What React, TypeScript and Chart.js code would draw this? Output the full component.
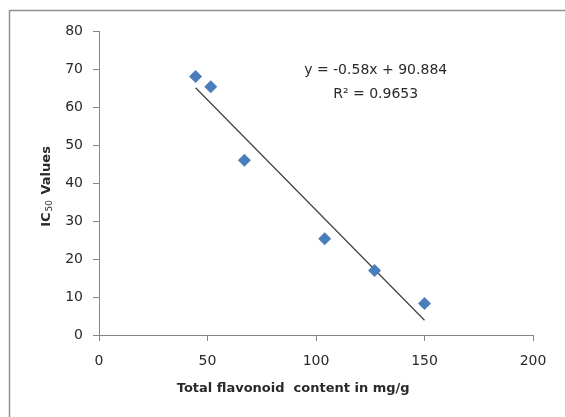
import React, { useEffect, useRef } from "react";
import { Chart, registerables } from "chart.js";

Chart.register(...registerables);

// ---- data ----
const flavonoidContent = [44.5, 51.5, 67, 104, 127, 150];
const ic50Values = [68, 65.3, 46, 25.3, 17, 8.3];
const trendSlope = -0.58;
const trendIntercept = 90.884;
const xTickValues = [0, 50, 100, 150, 200];
const yTickValues = [0, 10, 20, 30, 40, 50, 60, 70, 80];
const equationLines = ["y = -0.58x + 90.884", "R\u00B2 = 0.9653"];
const xAxisTitle = "Total flavonoid  content in mg/g";
const yAxisTitleMain = "IC";
const yAxisTitleSub = "50";
const yAxisTitleRest = " Values";

const FONT = '"DejaVu Sans", "Open Sans", sans-serif';
const AXIS_COLOR = "#868686";
const TEXT_COLOR = "#2a2a2a";
const POINT_COLOR = "#4A7EBB";

const decorPlugin = {
  id: "decor",
  beforeDraw(chart: any) {
    const ctx = chart.ctx;
    ctx.save();
    ctx.fillStyle = "#ffffff";
    ctx.fillRect(0, 0, chart.width, chart.height);
    ctx.strokeStyle = "#8f8f8f";
    ctx.lineWidth = 1.5;
    ctx.strokeRect(9.5, 10.5, chart.width + 20, chart.height + 20);
    ctx.restore();
  },
  afterDraw(chart: any) {
    const ctx = chart.ctx;
    const xs = chart.scales.x;
    const ys = chart.scales.y;
    ctx.save();
    ctx.fillStyle = TEXT_COLOR;
    ctx.textBaseline = "middle";

    // trendline equation
    ctx.font = `14px ${FONT}`;
    ctx.textAlign = "center";
    const ex = xs.getPixelForValue(127.5);
    ctx.fillText(equationLines[0], ex, ys.getPixelForValue(69.6));
    ctx.fillText(equationLines[1], ex, ys.getPixelForValue(63.3));

    // x axis title
    ctx.font = `bold 13px ${FONT}`;
    ctx.fillText(xAxisTitle, xs.getPixelForValue(89.5), 389);

    // y axis title with subscript
    const cy = (chart.chartArea.top + chart.chartArea.bottom) / 2 + 4;
    ctx.translate(47, cy);
    ctx.rotate(-Math.PI / 2);
    ctx.textAlign = "left";
    const mainFont = `bold 13px ${FONT}`;
    const subFont = `9px ${FONT}`;
    ctx.font = mainFont;
    const w1 = ctx.measureText(yAxisTitleMain).width;
    const w3 = ctx.measureText(yAxisTitleRest).width;
    ctx.font = subFont;
    const w2 = ctx.measureText(yAxisTitleSub).width + 1;
    let px = -(w1 + w2 + w3) / 2;
    ctx.font = mainFont;
    ctx.fillText(yAxisTitleMain, px, 0);
    px += w1 + 1;
    ctx.font = subFont;
    ctx.fillText(yAxisTitleSub, px, 3);
    px += w2;
    ctx.font = mainFont;
    ctx.fillText(yAxisTitleRest, px, 0);
    ctx.restore();
  },
};

export default function App() {
  const canvasRef = useRef<HTMLCanvasElement | null>(null);

  useEffect(() => {
    document.body.style.margin = "0";
    const canvas = canvasRef.current;
    if (!canvas) return;

    const xMin = Math.min(...flavonoidContent);
    const xMax = Math.max(...flavonoidContent);
    const trendPoints = [xMin, xMax].map((x) => ({ x, y: trendSlope * x + trendIntercept }));
    const scatterPoints = flavonoidContent.map((x, i) => ({ x, y: ic50Values[i] }));

    const tickFont = { family: FONT, size: 14 };

    const chart = new Chart(canvas, {
      type: "scatter",
      data: {
        datasets: [
          {
            type: "scatter",
            label: "IC50",
            data: scatterPoints,
            pointStyle: "rectRot",
            pointRadius: 6.5,
            pointBackgroundColor: POINT_COLOR,
            pointBorderColor: POINT_COLOR,
            pointBorderWidth: 0,
            order: 0,
          },
          {
            type: "line",
            label: "Trend",
            data: trendPoints,
            borderColor: "#404040",
            borderWidth: 1.2,
            pointRadius: 0,
            fill: false,
            order: 1,
          } as any,
        ],
      },
      options: {
        animation: false,
        responsive: false,
        maintainAspectRatio: false,
        layout: { padding: { left: 0, top: 31, right: 32, bottom: 0 } },
        plugins: {
          legend: { display: false },
          tooltip: { enabled: false },
          title: { display: false },
        },
        scales: {
          x: {
            type: "linear",
            min: xTickValues[0],
            max: xTickValues[xTickValues.length - 1],
            afterBuildTicks: (scale: any) => {
              scale.ticks = xTickValues.map((v) => ({ value: v }));
            },
            ticks: { font: tickFont, color: TEXT_COLOR, padding: 12 },
            grid: {
              drawOnChartArea: false,
              drawTicks: true,
              tickLength: 6,
              color: AXIS_COLOR,
            },
            border: { display: true, color: AXIS_COLOR, width: 1 },
            afterFit: (scale: any) => {
              scale.height = 82;
            },
          },
          y: {
            type: "linear",
            min: yTickValues[0],
            max: yTickValues[yTickValues.length - 1],
            afterBuildTicks: (scale: any) => {
              scale.ticks = yTickValues.map((v) => ({ value: v }));
            },
            ticks: { font: tickFont, color: TEXT_COLOR, padding: 10 },
            grid: {
              drawOnChartArea: false,
              drawTicks: true,
              tickLength: 6,
              color: AXIS_COLOR,
            },
            border: { display: true, color: AXIS_COLOR, width: 1 },
            afterFit: (scale: any) => {
              scale.width = 99;
            },
          },
        },
      },
      plugins: [decorPlugin],
    } as any);

    return () => chart.destroy();
  }, []);

  return (
    <canvas
      ref={canvasRef}
      width={565}
      height={417}
      style={{ display: "block", width: 565, height: 417 }}
    />
  );
}
